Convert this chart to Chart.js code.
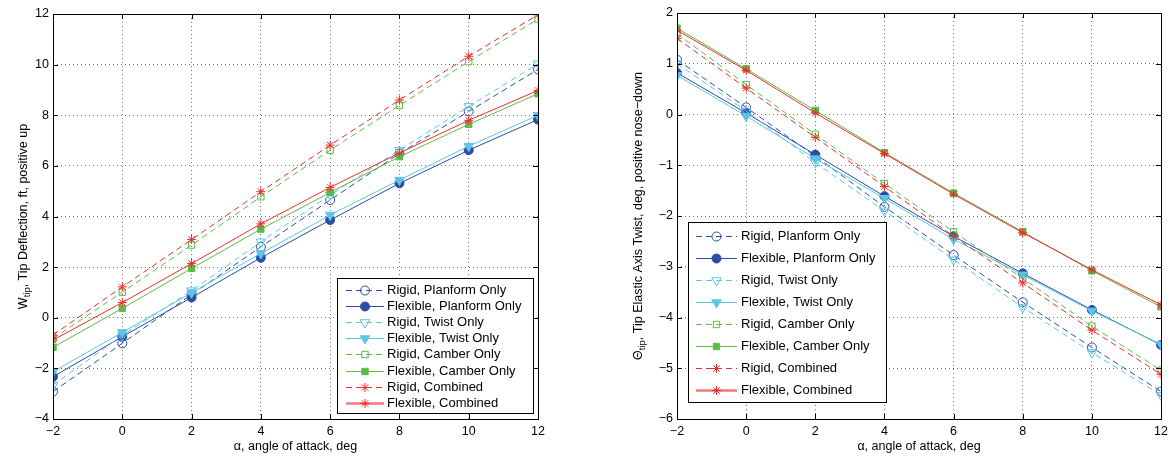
<!DOCTYPE html>
<html lang="en">

<head>
  <meta charset="UTF-8">
  <title>Tip deflection and tip twist</title>
  <style>
    body { margin: 0; background: #fff; width: 1173px; height: 457px; overflow: hidden; }
    .painel { position: absolute; top: 0; }
  </style>
</head>

<body>
  <div class="painel" style="left:0px"><canvas id="chartDeflexao" width="560" height="457"></canvas></div>
  <div class="painel" style="left:590px"><canvas id="chartTorcao" width="583" height="457"></canvas></div>
</body>

</html>
<script src="https://cdn.jsdelivr.net/npm/chart.js"></script>

<script>
  // angulo de ataque (eixo x dos dois graficos)
  var alpha = [-2, 0, 2, 4, 6, 8, 10, 12];

  // grafico da esquerda: deflexao da ponta (ft)
  var defRigidPlanform = [-2.92, -1.01, 0.92, 2.80, 4.65, 6.49, 8.15, 9.81];
  var defFlexPlanform = [-2.33, -0.75, 0.80, 2.37, 3.86, 5.31, 6.62, 7.83];
  var defRigidTwist = [-2.66, -0.70, 1.07, 3.00, 4.85, 6.62, 8.35, 10.03];
  var defFlexTwist = [-2.13, -0.58, 0.99, 2.54, 4.06, 5.44, 6.78, 8.00];
  var defRigidCamber = [-0.82, 1.01, 2.87, 4.78, 6.62, 8.39, 10.12, 11.80];
  var defFlexCamber = [-1.17, 0.37, 1.95, 3.50, 4.95, 6.36, 7.64, 8.85];
  var defRigidComb = [-0.68, 1.22, 3.09, 4.98, 6.82, 8.60, 10.33, 11.97];
  var defFlexComb = [-0.88, 0.60, 2.14, 3.71, 5.15, 6.51, 7.80, 8.98];

  // grafico da direita: torcao elastica da ponta (deg)
  var twRigidPlanform = [1.08, 0.14, -0.82, -1.82, -2.77, -3.70, -4.59, -5.46];
  var twFlexPlanform = [0.82, 0.03, -0.79, -1.61, -2.40, -3.13, -3.85, -4.54];
  var twRigidTwist = [1.00, 0.07, -0.95, -1.90, -2.86, -3.80, -4.69, -5.53];
  var twFlexTwist = [0.77, -0.03, -0.87, -1.65, -2.46, -3.16, -3.87, -4.53];
  var twRigidCamber = [1.59, 0.59, -0.39, -1.36, -2.31, -3.23, -4.17, -5.04];
  var twFlexCamber = [1.70, 0.90, 0.08, -0.75, -1.55, -2.31, -3.08, -3.79];
  var twRigidComb = [1.50, 0.52, -0.45, -1.42, -2.40, -3.32, -4.25, -5.12];
  var twFlexComb = [1.66, 0.87, 0.03, -0.77, -1.57, -2.33, -3.06, -3.75];

  var nomes = ['Rigid, Planform Only', 'Flexible, Planform Only', 'Rigid, Twist Only', 'Flexible, Twist Only',
    'Rigid, Camber Only', 'Flexible, Camber Only', 'Rigid, Combined', 'Flexible, Combined'];

  var fonte = '"Liberation Sans", Arial, sans-serif';
  var azul = '#2C4DA8';
  var ciano = '#5CC6E4';
  var verde = '#5DBB46';
  var vermelho = '#EF2B2B';

  // estilo de cada serie, na ordem dos nomes
  var estilos = [
    { cor: azul, marcador: 'circle', raio: 4.5, rot: 0, cheio: false },
    { cor: azul, marcador: 'circle', raio: 4.5, rot: 0, cheio: true },
    { cor: ciano, marcador: 'triangle', raio: 5.5, rot: 180, cheio: false },
    { cor: ciano, marcador: 'triangle', raio: 5.5, rot: 180, cheio: true },
    { cor: verde, marcador: 'rect', raio: 4.5, rot: 0, cheio: false },
    { cor: verde, marcador: 'rect', raio: 4.5, rot: 0, cheio: true },
    { cor: vermelho, marcador: 'star', raio: 4.5, rot: 0, cheio: false },
    { cor: vermelho, marcador: 'star', raio: 4.5, rot: 0, cheio: true }
  ];

  function montarDatasets(series) {
    var lista = [];
    for (var i = 0; i < series.length; i++) {
      var e = estilos[i];
      var pontos = [];
      for (var j = 0; j < alpha.length; j++) {
        pontos.push({ x: alpha[j], y: series[i][j] });
      }
      lista.push({
        label: nomes[i],
        data: pontos,
        order: series.length - i,
        borderColor: e.cor,
        borderWidth: 1,
        borderDash: e.cheio ? [] : [6, 4],
        pointStyle: e.marcador,
        pointRadius: e.raio,
        pointRotation: e.rot,
        pointBorderColor: e.cor,
        pointBorderWidth: 1,
        pointBackgroundColor: e.cheio ? e.cor : 'rgba(0,0,0,0)',
        tension: 0
      });
    }
    return lista;
  }

  function menos(v) {
    return v < 0 ? '\u2212' + Math.abs(v) : String(v);
  }

  // moldura do matlab: caixa, ticks para dentro, titulo do eixo y e legenda
  function criarMoldura(cfg) {
    return {
      id: 'moldura',
      afterDraw: function (chart) {
        var ctx = chart.ctx;
        var a = chart.chartArea;
        var sx = chart.scales.x;
        var sy = chart.scales.y;
        ctx.save();
        ctx.strokeStyle = '#000';
        ctx.lineWidth = 1;
        ctx.setLineDash([]);
        ctx.strokeRect(Math.round(a.left) + 0.5, Math.round(a.top) + 0.5,
          Math.round(a.right - a.left), Math.round(a.bottom - a.top));

        ctx.beginPath();
        sx.ticks.forEach(function (t) {
          var px = Math.round(sx.getPixelForValue(t.value)) + 0.5;
          ctx.moveTo(px, a.bottom); ctx.lineTo(px, a.bottom - 5);
          ctx.moveTo(px, a.top); ctx.lineTo(px, a.top + 5);
        });
        sy.ticks.forEach(function (t) {
          var py = Math.round(sy.getPixelForValue(t.value)) + 0.5;
          ctx.moveTo(a.left, py); ctx.lineTo(a.left + 5, py);
          ctx.moveTo(a.right, py); ctx.lineTo(a.right - 5, py);
        });
        ctx.stroke();

        // titulo do eixo y com subscrito
        var partes = cfg.tituloY;
        var larguras = partes.map(function (p) {
          ctx.font = p.tamanho + 'px ' + fonte;
          return ctx.measureText(p.texto).width;
        });
        var total = larguras.reduce(function (s, w) { return s + w; }, 0);
        ctx.translate(cfg.tituloX, (a.top + a.bottom) / 2);
        ctx.rotate(-Math.PI / 2);
        ctx.fillStyle = '#000';
        ctx.textBaseline = 'alphabetic';
        ctx.textAlign = 'left';
        var cx = -total / 2;
        partes.forEach(function (p, k) {
          ctx.font = p.tamanho + 'px ' + fonte;
          ctx.fillText(p.texto, cx, 4 + (p.sub ? 3 : 0));
          cx += larguras[k];
        });
        ctx.setTransform(1, 0, 0, 1, 0, 0);

        // legenda
        var L = cfg.legenda;
        ctx.fillStyle = '#fff';
        ctx.fillRect(L.x, L.y, L.w, L.h);
        ctx.strokeStyle = '#000';
        ctx.strokeRect(L.x + 0.5, L.y + 0.5, L.w, L.h);
        ctx.font = '13px ' + fonte;
        ctx.textBaseline = 'middle';
        for (var i = 0; i < nomes.length; i++) {
          var e = estilos[i];
          var yy = Math.round(L.y + L.primeira + i * L.passo) + 0.5;
          var ultima = i === nomes.length - 1;
          // a ultima amostra da legenda sai mais grossa e clara no original
          ctx.strokeStyle = ultima ? '#F07878' : e.cor;
          ctx.lineWidth = ultima ? 2.5 : 1;
          ctx.setLineDash(e.cheio ? [] : [6, 4]);
          ctx.beginPath();
          ctx.moveTo(L.x + L.linha0, yy);
          ctx.lineTo(L.x + L.linha1, yy);
          ctx.stroke();
          ctx.setLineDash([]);
          ctx.strokeStyle = e.cor;
          ctx.lineWidth = 1;
          ctx.fillStyle = e.cheio ? e.cor : 'rgba(0,0,0,0)';
          Chart.helpers.drawPoint(ctx, { pointStyle: e.marcador, rotation: e.rot, radius: e.raio, borderWidth: 1 },
            L.x + (L.linha0 + L.linha1) / 2, yy);
          ctx.fillStyle = '#000';
          ctx.fillText(nomes[i], L.x + L.texto, yy);
        }
        ctx.restore();
      }
    };
  }

  function criarGrafico(idCanvas, series, yMin, yMax, yPasso, larguraY, pad, moldura) {
    return new Chart(document.getElementById(idCanvas), {
      type: 'line',
      data: { datasets: montarDatasets(series) },
      options: {
        responsive: false,
        animation: false,
        devicePixelRatio: 1,
        layout: { padding: pad },
        plugins: { legend: { display: false }, tooltip: { enabled: false } },
        scales: {
          x: {
            type: 'linear', min: -2, max: 12,
            afterFit: function (s) { s.height = 38; },
            ticks: { stepSize: 2, padding: 5, color: '#000', font: { family: fonte, size: 12.5 }, callback: menos, maxRotation: 0 },
            grid: { color: 'rgba(0,0,0,0.55)', drawTicks: false },
            border: { display: false, dash: [1, 3] },
            title: { display: true, text: '\u03b1, angle of attack, deg', color: '#000', font: { family: fonte, size: 12.5 }, padding: { top: 0, bottom: 3 } }
          },
          y: {
            type: 'linear', min: yMin, max: yMax,
            afterFit: function (s) { s.width = larguraY; },
            ticks: { stepSize: yPasso, padding: 4, color: '#000', font: { family: fonte, size: 12.5 }, callback: menos },
            grid: { color: 'rgba(0,0,0,0.55)', drawTicks: false },
            border: { display: false, dash: [1, 3] }
          }
        }
      },
      plugins: [moldura]
    });
  }

  var grafico_deflexao = criarGrafico('chartDeflexao',
    [defRigidPlanform, defFlexPlanform, defRigidTwist, defFlexTwist, defRigidCamber, defFlexCamber, defRigidComb, defFlexComb],
    -4, 12, 2, 53, { top: 14, right: 22, bottom: 0, left: 0 },
    criarMoldura({
      tituloX: 23,
      tituloY: [{ texto: 'W', tamanho: 12.5 }, { texto: 'tip', tamanho: 9.5, sub: true }, { texto: ', Tip Deflection, ft, positive up', tamanho: 12.5 }],
      legenda: { x: 337, y: 278, w: 196, h: 135, primeira: 11.5, passo: 16.2, linha0: 9, linha1: 47, texto: 50 }
    }));

  var grafico_torcao = criarGrafico('chartTorcao',
    [twRigidPlanform, twFlexPlanform, twRigidTwist, twFlexTwist, twRigidCamber, twFlexCamber, twRigidComb, twFlexComb],
    -6, 2, 1, 87, { top: 13, right: 11, bottom: 0, left: 0 },
    criarMoldura({
      tituloX: 48,
      tituloY: [{ texto: '\u0398', tamanho: 12.5 }, { texto: 'tip', tamanho: 9.5, sub: true }, { texto: ', Tip Elastic Axis Twist, deg, positive nose\u2212down', tamanho: 12.5 }],
      legenda: { x: 98, y: 222, w: 198, h: 180, primeira: 13.5, passo: 22, linha0: 8, linha1: 49, texto: 53 }
    }));
</script>
